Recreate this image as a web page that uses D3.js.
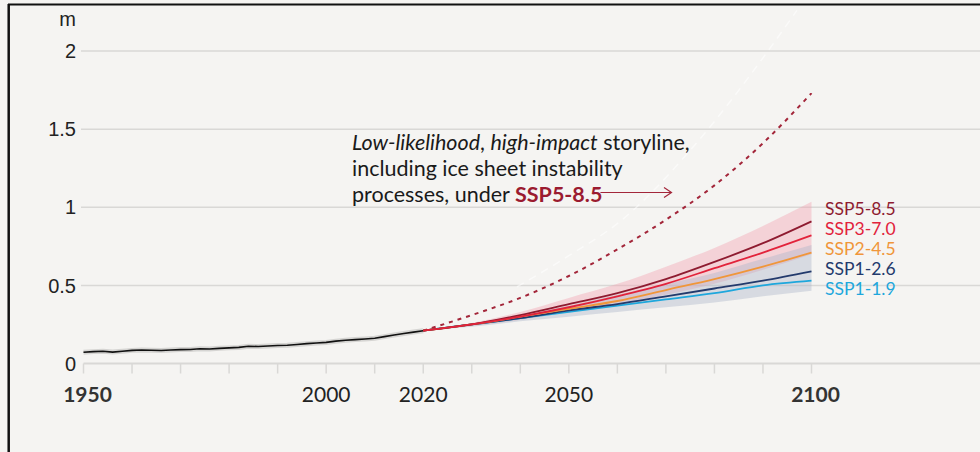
<!DOCTYPE html>
<meta charset="utf-8">
<script src="https://d3js.org/d3.v7.min.js"></script>
<style>
  body { margin: 0; background: #f5f4f2; }
  svg { display: block; }
</style>
<div id="dataVis"></div>

<script>
// observed sea level (m), 1950-2020
var histYears = [1950,1952,1954,1956,1958,1960,1962,1964,1966,1968,1970,1972,1974,1976,1978,1980,1982,1984,1986,1988,1990,1992,1994,1996,1998,2000,2002,2004,2006,2008,2010,2012,2014,2016,2018,2020];
var histValues = [0.072,0.076,0.078,0.073,0.078,0.084,0.086,0.085,0.083,0.086,0.089,0.090,0.094,0.093,0.097,0.100,0.103,0.110,0.109,0.112,0.115,0.117,0.122,0.127,0.131,0.135,0.143,0.149,0.153,0.157,0.162,0.172,0.182,0.192,0.201,0.210];

// projections
var projYears = [2020,2030,2040,2050,2060,2070,2080,2090,2100];
var ssp119 = [0.21,0.25,0.29,0.33,0.37,0.41,0.45,0.50,0.53];
var ssp126 = [0.21,0.25,0.29,0.34,0.38,0.43,0.48,0.53,0.59];
var ssp245 = [0.21,0.25,0.30,0.35,0.40,0.47,0.54,0.62,0.71];
var ssp370 = [0.21,0.25,0.30,0.36,0.43,0.51,0.61,0.71,0.82];
var ssp585 = [0.21,0.25,0.31,0.38,0.45,0.54,0.65,0.77,0.91];
var lowLikelihood = [0.21,0.31,0.42,0.56,0.73,0.92,1.14,1.41,1.73];

// likely ranges
var ssp585Low  = [0.21,0.24,0.28,0.33,0.38,0.44,0.51,0.60,0.70];
var ssp585High = [0.21,0.26,0.33,0.42,0.51,0.62,0.74,0.88,1.035];
var ssp126Low  = [0.21,0.235,0.27,0.30,0.33,0.36,0.39,0.43,0.466];
var ssp126High = [0.21,0.25,0.31,0.37,0.44,0.51,0.58,0.67,0.758];

// faint ghost trace seen in the figure
var ghostYears = [2039.3,2050,2061,2076,2090.8,2097];
var ghostValues = [0.49,0.69,0.92,1.40,1.99,2.26];

var yTicks = [0,0.5,1,1.5,2];
var xTicks = [1950,1960,1970,1980,1990,2000,2010,2020,2030,2040,2050,2060,2070,2080,2090,2100];
var xLabels = [1950,2000,2020,2050,2100];
var boldLabels = [1950,2100];

var scenarios = [
  {name: "SSP5-8.5", values: ssp585, color: "#8e1b30"},
  {name: "SSP3-7.0", values: ssp370, color: "#e2233b"},
  {name: "SSP2-4.5", values: ssp245, color: "#f0963a"},
  {name: "SSP1-2.6", values: ssp126, color: "#233a6c"},
  {name: "SSP1-1.9", values: ssp119, color: "#1ea7dc"}
];
var drawOrder = ["SSP1-1.9","SSP1-2.6","SSP2-4.5","SSP5-8.5","SSP3-7.0"];

var width = 980, height = 452;

var x = d3.scaleLinear().domain([1950, 2100]).range([83.5, 811.5]);
var y = d3.scaleLinear().domain([0, 2]).range([363.5, 51]);

var svg = d3.select('#dataVis')
  .append('svg')
    .attr('width', width)
    .attr('height', height);

svg.append('rect').attr('width', width).attr('height', height).attr('fill', '#f5f4f2');

// grid
svg.append('g')
  .selectAll('line')
  .data(yTicks.filter(d => d > 0))
  .enter().append('line')
    .attr('x1', 81).attr('x2', width)
    .attr('y1', d => y(d)).attr('y2', d => y(d))
    .attr('stroke', '#d9d8d6')
    .attr('stroke-width', 1.5);

// y labels
svg.append('g')
  .selectAll('text')
  .data(yTicks)
  .enter().append('text')
    .attr('x', 76)
    .attr('y', d => y(d))
    .attr('dy', '0.36em')
    .attr('text-anchor', 'end')
    .attr('font-family', 'Liberation Sans, Arial, sans-serif')
    .attr('font-size', 20)
    .attr('fill', '#222')
    .text(d => d);

svg.append('text')
  .attr('x', 76).attr('y', 26)
  .attr('text-anchor', 'end')
  .attr('font-family', 'Liberation Sans, Arial, sans-serif')
  .attr('font-size', 20)
  .attr('fill', '#222')
  .text('m');

// x axis
var xAxis = svg.append('g');
xAxis.append('line')
  .attr('x1', x(1950)).attr('x2', width)
  .attr('y1', y(0)).attr('y2', y(0))
  .attr('stroke', '#d9d8d6').attr('stroke-width', 2);
xAxis.selectAll('.tick')
  .data(xTicks)
  .enter().append('line')
    .attr('x1', d => x(d)).attr('x2', d => x(d))
    .attr('y1', y(0)).attr('y2', y(0) + 10)
    .attr('stroke', '#d9d8d6').attr('stroke-width', 1.5);
xAxis.selectAll('text')
  .data(xLabels)
  .enter().append('text')
    .attr('x', d => x(d) + (boldLabels.includes(d) ? 4 : 0))
    .attr('y', 402)
    .attr('text-anchor', 'middle')
    .attr('font-family', 'Lato, sans-serif')
    .attr('font-size', 21)
    .attr('font-weight', d => boldLabels.includes(d) ? 'bold' : 'normal')
    .attr('fill', d => boldLabels.includes(d) ? '#333' : '#222')
    .text(d => d);

// likely ranges
var area = d3.area()
  .x(d => x(d[0]))
  .y0(d => y(d[1]))
  .y1(d => y(d[2]))
  .curve(d3.curveMonotoneX);

svg.append('path')
  .datum(projYears.map((yr, i) => [yr, ssp585Low[i], ssp585High[i]]))
  .attr('d', area)
  .attr('fill', '#f2a0b0')
  .attr('fill-opacity', 0.4);

svg.append('path')
  .datum(projYears.map((yr, i) => [yr, ssp126Low[i], ssp126High[i]]))
  .attr('d', area)
  .attr('fill', '#aab4c8')
  .attr('fill-opacity', 0.4);

var line = d3.line()
  .x(d => x(d[0]))
  .y(d => y(d[1]))
  .curve(d3.curveMonotoneX);

// ghost trace
svg.append('path')
  .datum(ghostYears.map((yr, i) => [yr, ghostValues[i]]))
  .attr('d', line)
  .attr('fill', 'none')
  .attr('stroke', '#ffffff')
  .attr('stroke-width', 1.5)
  .attr('stroke-dasharray', '8,6')
  .attr('opacity', 0.55);

// observed
var hist = histYears.map((yr, i) => [yr, histValues[i]]);
svg.append('path')
  .datum(hist)
  .attr('d', d3.line().x(d => x(d[0])).y(d => y(d[1])))
  .attr('fill', 'none')
  .attr('stroke', '#d6d5d3')
  .attr('stroke-width', 5);
svg.append('path')
  .datum(hist)
  .attr('d', d3.line().x(d => x(d[0])).y(d => y(d[1])))
  .attr('fill', 'none')
  .attr('stroke', '#111')
  .attr('stroke-width', 1.6);

// low-likelihood storyline
svg.append('path')
  .datum(projYears.map((yr, i) => [yr, lowLikelihood[i]]))
  .attr('d', line)
  .attr('fill', 'none')
  .attr('stroke', '#a3263a')
  .attr('stroke-width', 2)
  .attr('stroke-dasharray', '4,5');

// scenario lines
drawOrder.forEach(function(name) {
  var s = scenarios.find(d => d.name === name);
  svg.append('path')
    .datum(projYears.map((yr, i) => [yr, s.values[i]]))
    .attr('d', line)
    .attr('fill', 'none')
    .attr('stroke', s.color)
    .attr('stroke-width', 1.8);
});

// scenario labels
svg.append('g')
  .selectAll('text')
  .data(scenarios)
  .enter().append('text')
    .attr('x', 825)
    .attr('y', (d, i) => 215 + i * 20)
    .attr('font-family', 'Lato, sans-serif')
    .attr('font-size', 17.5)
    .attr('fill', d => d.color)
    .text(d => d.name);

// annotation
var note = svg.append('text')
  .attr('font-family', 'Lato, sans-serif')
  .attr('font-size', 21.5)
  .attr('fill', '#1a1a1a');
note.append('tspan').attr('x', 352).attr('y', 149.5).attr('font-style', 'italic').text('Low-likelihood');
note.append('tspan').text(', ');
note.append('tspan').attr('font-style', 'italic').text('high-impact');
note.append('tspan').text(' storyline,');
note.append('tspan').attr('x', 352).attr('y', 175.5).text('including ice sheet instability');
note.append('tspan').attr('x', 352).attr('y', 201.5).text('processes, under ');
var lbl = note.append('tspan').attr('font-weight', 'bold').attr('fill', '#9b1b30').text('SSP5-8.5');

var n = lbl.node();
var arrowStart = n.getStartPositionOfChar(0).x + n.getComputedTextLength() - 2;
svg.append('line')
  .attr('x1', arrowStart).attr('x2', 671)
  .attr('y1', 192.5).attr('y2', 192.5)
  .attr('stroke', '#a3263a').attr('stroke-width', 1.2);
svg.append('path')
  .attr('d', 'M' + 664 + ',' + 187.5 + 'L' + 671.5 + ',' + 192.5 + 'L' + 664 + ',' + 197.5)
  .attr('fill', 'none')
  .attr('stroke', '#a3263a').attr('stroke-width', 1.2);

// frame
svg.append('line').attr('x1', 8).attr('x2', width).attr('y1', 4.5).attr('y2', 4.5)
  .attr('stroke', '#111').attr('stroke-width', 2);
svg.append('line').attr('x1', 8.7).attr('x2', 8.7).attr('y1', 4).attr('y2', height)
  .attr('stroke', '#111').attr('stroke-width', 2.5);
</script>
